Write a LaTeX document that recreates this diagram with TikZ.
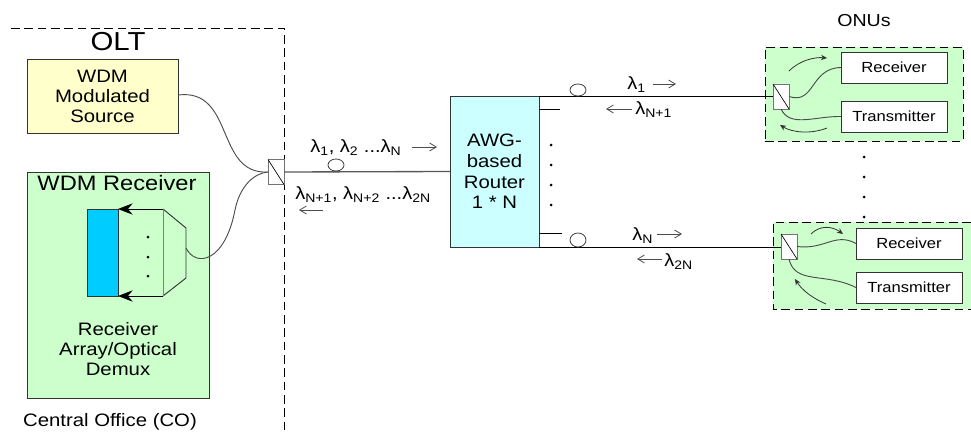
\documentclass[tikz,border=0pt]{standalone}
\usepackage{fontspec}
\usetikzlibrary{arrows.meta,shapes.geometric}
\setmainfont[FakeStretch=1.13]{Liberation Sans}
\definecolor{srcyellow}{HTML}{FFFFCC}
\definecolor{rxgreen}{HTML}{CCFFCC}
\definecolor{arrayblue}{HTML}{00CCFF}
\definecolor{awgcyan}{HTML}{CCFFFF}
\tikzset{
  box/.style 2 args={draw=black!80, line width=0.65pt, minimum width=#1*0.75pt, minimum height=#2*0.75pt,
    inner sep=0pt, outer sep=0pt, align=center, font=\fontsize{13.5}{15}\selectfont},
  coupler/.style={draw=black!55, fill=white, line width=0.7pt, minimum width=12pt, minimum height=18.75pt,
    inner sep=0pt, outer sep=0pt},
  loopring/.style={draw=black!75, fill=white, ellipse, line width=0.6pt},
  fiber/.style={black!70, line width=0.7pt},
  bound/.style={dash pattern=on 6.5pt off 3.5pt, line width=0.6pt},
  lab/.style={inner sep=0pt, anchor=west, font=\fontsize{13.3}{15}\selectfont},
  txt/.style={inner sep=0pt, font=\fontsize{13.5}{15}\selectfont, align=center},
  thinarrow/.style={->, >={Straight Barb[length=5pt,width=6pt]}, black!70, line width=0.6pt},
  flowarrow/.style={->, >={Stealth[length=4.5pt,width=4pt]}, black!80, line width=0.6pt}
}
\begin{document}
\begin{tikzpicture}[x=0.75pt, y=-0.75pt, line cap=butt, line join=miter]
	\useasboundingbox (0,0) rectangle (971,432);

	% ONU backgrounds and the OLT boundary
	\node[draw, bound, fill=rxgreen, minimum width=148.5pt, minimum height=70.5pt, inner sep=0pt] (onuA) at (864,94) {};
	\fill[rxgreen] (773,222) rectangle (971,309);
	\draw[bound] (971,222) -- (773,222) -- (773,309) -- (971,309);
	\coordinate (oltStart) at (11,28);
	\coordinate (oltCorner) at (284,28);
	\coordinate (oltEnd) at (284,432);
	\draw[bound] (oltStart) -- (oltCorner) -- (oltEnd);

	% Boxes of the central office
	\node[txt, font=\fontsize{19.5}{21}\selectfont] (olt) at (118,42) {OLT};
	\node[box={151}{74}, fill=srcyellow] (source) at (102.5,96) {WDM\\Modulated\\Source};
	\node[box={182}{226}, fill=rxgreen] (receiver) at (118,285) {};
	\node[txt, font=\fontsize{15.7}{17}\selectfont] (rxTitle) at (117,183) {WDM Receiver};
	\node[box={31}{87}, fill=arrayblue] (array) at (102.5,252.5) {};
	\node[txt] (rxText) at (118,349) {Receiver\\Array/Optical\\Demux};
	\node[txt] (co) at (110,422) {Central Office (CO)};

	% Demux
	\coordinate (dmA) at (163,209);
	\coordinate (dmB) at (186,228);
	\coordinate (dmC) at (186,278);
	\coordinate (dmD) at (163,296);
	\coordinate (dmOut) at (186,248);
	\draw[black!80, line width=0.7pt] (dmA) -- (dmB) -- (dmC) -- (dmD);
	\draw[black!50, line width=0.7pt] (dmA) -- (dmD);
	\draw[black, line width=0.7pt, -{Stealth[length=11pt,width=8.5pt]}] (dmA) -- (array.north east);
	\draw[black, line width=0.7pt, -{Stealth[length=11pt,width=8.5pt]}] (dmD) -- (array.south east);
	\foreach \y in {237,257,276}
		\fill (148,\y) circle (1.5);

	% Couplers
	\node[coupler] (cpO) at (276,172) {};
	\node[coupler] (cpA) at (781,96.5) {};
	\node[coupler] (cpB) at (789,246.5) {};
	\foreach \c in {cpO,cpA,cpB}
		\draw[black, line width=0.5pt] (\c.north west) -- (\c.south east);

	% Router
	\node[box={89}{151}, fill=awgcyan] (router) at (494.5,171.5) {AWG-\\[0.5pt]based\\[0.5pt]Router\\[0.5pt]1 * N};

	% ONU boxes
	\node[txt, font=\fontsize{13}{15}\selectfont] (onus) at (864,21) {ONUs};
	\node[box={106}{31}, fill=white, font=\fontsize{11}{13}\selectfont] (rxA) at (894,67.5) {Receiver};
	\node[box={106}{31}, fill=white, font=\fontsize{11}{13}\selectfont] (txA) at (894,116.5) {Transmitter};
	\node[box={106}{31}, fill=white, font=\fontsize{11}{13}\selectfont] (rxB) at (909,243.5) {Receiver};
	\node[box={106}{31}, fill=white, font=\fontsize{11}{13}\selectfont] (txB) at (909,287.5) {Transmitter};

	% Feeder and distribution fibres
	\draw[black!65, line width=1pt] (cpO.east) -- (router.west);
	\coordinate (topOut) at (539,96);
	\coordinate (botOut) at (539,247);
	\draw[black, line width=0.7pt] (router.north east) -- (cpA.west |- topOut);
	\draw[black, line width=0.7pt] (router.south east) -- (cpB.west |- botOut);
	\coordinate (stubA) at (539,109);
	\coordinate (stubB) at (539,233);
	\draw[black, line width=0.6pt] (stubA) -- ++(21,0);
	\draw[black, line width=0.6pt] (stubB) -- ++(23,0);

	% Curved fibres
	\draw[fiber] (source.east |- 0,95) .. controls (235,88) and (215,175) .. (cpO.west);
	\draw[fiber] (dmOut) .. controls (196,268) and (225,262) .. (235,210) .. controls (240,185) and (255,173) .. (cpO.west);
	\draw[fiber] (cpA.east) .. controls (815,105) and (810,68) .. (rxA.west);
	\draw[fiber] (cpA.south) .. controls (790,128) and (815,116) .. (txA.west);
	\draw[fiber] (cpB.east) .. controls (825,250) and (835,232) .. (rxB.west);
	\draw[fiber] (cpB.south) .. controls (795,285) and (825,272) .. (txB.west);

	% Rings on the fibres
	\node[loopring, minimum width=12pt, minimum height=9pt, inner sep=0pt] (ringO) at (336,165) {};
	\node[loopring, minimum width=12pt, minimum height=9pt, inner sep=0pt] (ringA) at (578,90) {};
	\node[loopring, minimum width=12pt, minimum height=10.5pt, inner sep=0pt] (ringB) at (578,240) {};

	% Dots
	\foreach \y in {145,165,185,205}
		\fill (551,\y) circle (1.5);
	\foreach \y in {157,177,197,217}
		\fill (864,\y) circle (1.5);

	% Wavelength labels
	\node[lab] (lamDown) at (310,148) {λ\textsubscript{1}, λ\textsubscript{2} ...λ\textsubscript{N}};
	\node[lab] (lamUp) at (295,195) {λ\textsubscript{N+1}, λ\textsubscript{N+2} ...λ\textsubscript{2N}};
	\node[lab] (lamA) at (627,85) {λ\textsubscript{1}};
	\node[lab] (lamB) at (635,110) {λ\textsubscript{N+1}};
	\node[lab] (lamC) at (632,236) {λ\textsubscript{N}};
	\node[lab] (lamD) at (664,262) {λ\textsubscript{2N}};

	% Wavelength arrows
	\foreach \xa/\xb/\y in {412/437/147, 323/299/210, 653/676/84, 632/606/109, 657/682/234, 662/637/259}
		\draw[thinarrow] (\xa,\y) -- (\xb,\y);

	% Direction of flow inside the ONUs
	\draw[flowarrow] (789,71) .. controls (800,60) and (815,57) .. (827,58);
	\draw[flowarrow] (827,128) .. controls (812,134) and (793,133) .. (780,125);
	\draw[flowarrow] (811,234) .. controls (820,225) and (832,226) .. (843,234);
	\draw[flowarrow] (826,304) .. controls (812,298) and (802,290) .. (795,279);
\end{tikzpicture}
\end{document}
